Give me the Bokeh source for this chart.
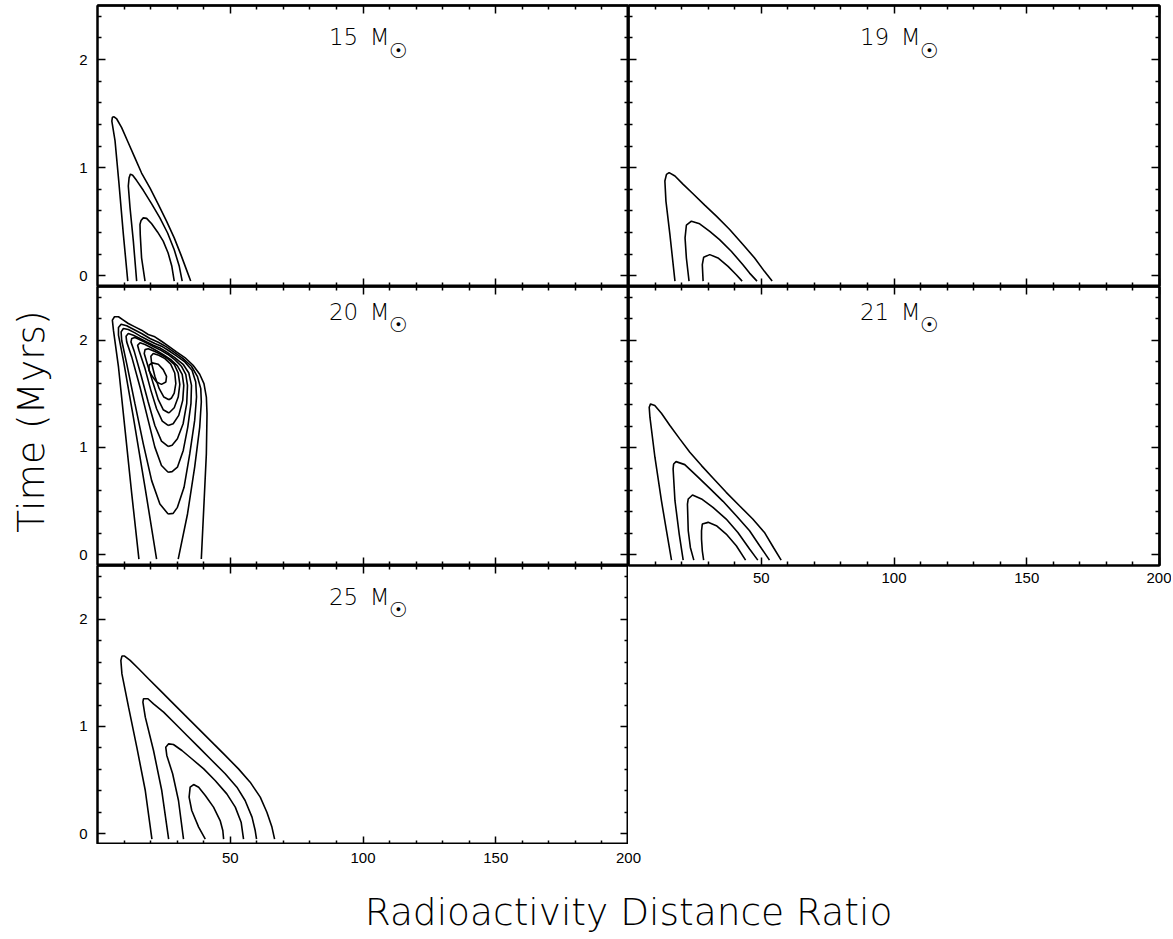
import math
from bokeh.plotting import figure
from bokeh.models import Range1d, LinearAxis, FixedTicker, Label
from bokeh.layouts import column, row
from bokeh.embed import file_html
from bokeh.resources import INLINE

# ---------------- axes ----------------
X_START, X_END = 0, 200
Y_START, Y_END = -0.1, 2.5
X_MAJOR = [50, 100, 150, 200]
X_MINOR = [10, 20, 30, 40, 60, 70, 80, 90, 110, 120, 130, 140, 160, 170, 180, 190]
Y_MAJOR = [0, 1, 2]
Y_MINOR = [0.2, 0.4, 0.6, 0.8, 1.2, 1.4, 1.6, 1.8, 2.2, 2.4]

X_TITLE = "Radioactivity Distance Ratio"
Y_TITLE = "Time (Myrs)"

# ---------------- contour data ----------------
# 15 Msun
M15_C1_X = [11.4, 9.75, 8.1, 6.6, 5.4, 5.6, 6.25, 7.25, 9.1, 11.6, 14.1, 16.6, 19.8, 22.9, 26.0, 28.9, 31.4, 33.5, 35.1]
M15_C1_Y = [-0.05, 0.38, 0.85, 1.25, 1.43, 1.465, 1.47, 1.45, 1.37, 1.23, 1.09, 0.95, 0.81, 0.66, 0.505, 0.35, 0.195, 0.056, -0.05]
M15_C2_X = [14.75, 13.5, 12.25, 11.6, 11.9, 12.4, 13.25, 14.75, 17.25, 20.4, 23.5, 26.4, 28.9, 30.8, 31.9]
M15_C2_Y = [-0.05, 0.32, 0.63, 0.83, 0.905, 0.94, 0.93, 0.88, 0.79, 0.665, 0.535, 0.395, 0.24, 0.087, -0.05]
M15_C3_X = [17.9, 16.6, 16.1, 16.0, 16.4, 17.25, 18.5, 20.4, 22.6, 24.75, 26.6, 28.0, 28.9]
M15_C3_Y = [-0.05, 0.165, 0.38, 0.475, 0.51, 0.535, 0.53, 0.48, 0.405, 0.32, 0.21, 0.087, -0.05]

# 19 Msun
M19_C1_X = [17.5, 15.6, 14.1, 13.7, 14.3, 15.3, 17.5, 20.6, 24.3, 28.7, 33.1, 38.1, 43.1, 47.5, 51.2, 54.1]
M19_C1_Y = [-0.05, 0.38, 0.69, 0.876, 0.938, 0.954, 0.923, 0.845, 0.758, 0.653, 0.551, 0.427, 0.288, 0.164, 0.04, -0.05]
M19_C2_X = [22.8, 21.8, 21.3, 21.8, 23.7, 26.8, 30.6, 34.3, 38.7, 43.1, 45.6, 48.4]
M19_C2_Y = [-0.05, 0.164, 0.35, 0.467, 0.504, 0.48, 0.411, 0.334, 0.226, 0.102, 0.024, -0.05]
M19_C3_X = [28.1, 27.8, 28.3, 30.6, 33.7, 37.5, 40.6, 42.8]
M19_C3_Y = [-0.05, 0.102, 0.17, 0.195, 0.164, 0.086, 0.009, -0.05]

# 20 Msun
M20_C1_X = [15.6, 12.9, 10.4, 7.9, 6.0, 5.6, 6.4, 7.9, 9.75, 11.6, 14.1, 16.6, 19.1, 21.6, 24.1, 26.6, 29.75, 32.9, 36.0, 38.5, 40.1, 41.0, 41.25, 41.0, 40.1, 39.1]
M20_C1_Y = [-0.04, 0.567, 1.159, 1.75, 2.093, 2.187, 2.218, 2.218, 2.187, 2.155, 2.124, 2.093, 2.053, 2.031, 1.99, 1.947, 1.891, 1.838, 1.766, 1.682, 1.595, 1.47, 1.314, 0.94, 0.473, -0.04]
M20_C2_X = [22.25, 17.9, 13.5, 9.75, 7.9, 7.9, 8.9, 11.0, 13.5, 16.6, 19.75, 22.9, 26.0, 29.1, 32.25, 35.4, 37.6, 38.9, 39.1, 38.5, 36.6, 33.9, 30.4]
M20_C2_Y = [-0.04, 0.629, 1.283, 1.813, 2.046, 2.118, 2.149, 2.134, 2.102, 2.062, 2.015, 1.981, 1.937, 1.884, 1.828, 1.757, 1.663, 1.548, 1.423, 1.19, 0.816, 0.38, -0.04]
M20_C3_X = [26.6, 23.5, 20.4, 17.25, 14.1, 11.0, 9.1, 8.9, 9.75, 11.6, 14.1, 16.6, 19.1, 21.6, 24.1, 26.6, 29.75, 32.9, 35.6, 37.0, 37.3, 36.6, 34.75, 32.6, 30.1, 28.5, 26.6]
M20_C3_Y = [0.38, 0.473, 0.691, 1.034, 1.408, 1.782, 1.999, 2.077, 2.109, 2.099, 2.068, 2.031, 1.999, 1.968, 1.944, 1.906, 1.853, 1.797, 1.719, 1.61, 1.47, 1.252, 0.94, 0.629, 0.442, 0.386, 0.38]
M20_C4_X = [26.6, 24.1, 21.6, 19.1, 16.0, 12.9, 11.0, 10.75, 11.6, 13.5, 16.0, 18.5, 21.0, 23.5, 26.0, 29.1, 32.25, 34.4, 35.4, 35.2, 34.0, 32.3, 30.1, 28.1, 26.6]
M20_C4_Y = [0.769, 0.832, 1.003, 1.252, 1.564, 1.844, 1.984, 2.037, 2.062, 2.046, 2.015, 1.984, 1.953, 1.928, 1.891, 1.838, 1.775, 1.694, 1.579, 1.408, 1.19, 0.972, 0.816, 0.775, 0.769]
M20_C5_X = [26.6, 24.1, 21.6, 19.1, 16.4, 13.9, 12.6, 12.9, 14.1, 16.4, 18.9, 21.4, 23.9, 26.4, 29.1, 31.6, 33.25, 33.9, 33.6, 32.25, 30.1, 28.1, 26.6]
M20_C5_Y = [1.009, 1.059, 1.205, 1.423, 1.673, 1.891, 1.984, 2.015, 2.025, 1.999, 1.968, 1.937, 1.906, 1.869, 1.819, 1.757, 1.682, 1.579, 1.408, 1.221, 1.081, 1.021, 1.009]
M20_C6_X = [26.6, 24.4, 22.25, 20.1, 17.9, 15.6, 15.1, 16.0, 17.9, 20.1, 22.6, 25.1, 27.6, 30.1, 31.9, 32.5, 32.1, 30.6, 28.5, 26.6]
M20_C6_Y = [1.205, 1.246, 1.361, 1.532, 1.735, 1.906, 1.953, 1.975, 1.959, 1.931, 1.897, 1.859, 1.819, 1.76, 1.682, 1.579, 1.439, 1.299, 1.221, 1.205]
M20_C7_X = [26.9, 24.75, 22.9, 21.0, 19.1, 17.6, 17.9, 19.1, 21.4, 23.9, 26.4, 28.9, 30.4, 31.0, 30.4, 28.9, 26.9]
M20_C7_Y = [1.321, 1.352, 1.445, 1.595, 1.75, 1.875, 1.912, 1.919, 1.897, 1.866, 1.828, 1.775, 1.694, 1.588, 1.47, 1.37, 1.321]
M20_C8_X = [26.9, 25.0, 23.25, 21.6, 20.4, 20.1, 21.0, 23.1, 25.4, 27.6, 29.1, 29.5, 28.9, 27.9, 26.9]
M20_C8_Y = [1.445, 1.47, 1.548, 1.663, 1.782, 1.85, 1.875, 1.859, 1.828, 1.775, 1.694, 1.595, 1.507, 1.461, 1.445]
M20_C9_X = [19.4, 20.6, 22.9, 24.75, 26.0, 25.75, 24.1, 22.25, 20.6, 19.4, 19.4]
M20_C9_Y = [1.766, 1.788, 1.775, 1.725, 1.663, 1.61, 1.588, 1.61, 1.663, 1.719, 1.766]

# 21 Msun
M21_C1_X = [16.2, 14.3, 12.4, 9.95, 8.07, 7.8, 8.3, 9.9, 12.4, 15.6, 19.3, 23.1, 27.5, 31.8, 36.8, 41.8, 46.8, 51.2, 54.6, 57.5]
M21_C1_Y = [-0.05, 0.224, 0.504, 0.909, 1.282, 1.375, 1.406, 1.391, 1.319, 1.204, 1.08, 0.955, 0.831, 0.716, 0.582, 0.457, 0.333, 0.208, 0.068, -0.05]
M21_C2_X = [20.6, 19.1, 17.5, 16.8, 17.0, 17.9, 21.2, 25.6, 30.6, 35.6, 40.6, 45.6, 49.4, 53.1]
M21_C2_Y = [-0.05, 0.193, 0.504, 0.80, 0.846, 0.868, 0.84, 0.737, 0.619, 0.498, 0.364, 0.224, 0.084, -0.05]
M21_C3_X = [24.6, 23.3, 22.5, 22.2, 22.5, 24.1, 27.5, 31.8, 36.8, 41.2, 45.6, 48.7]
M21_C3_Y = [-0.05, 0.068, 0.224, 0.473, 0.52, 0.557, 0.52, 0.442, 0.333, 0.208, 0.053, -0.05]
M21_C4_X = [28.3, 27.8, 27.5, 27.5, 27.8, 30.0, 33.1, 36.8, 40.6, 44.1]
M21_C4_Y = [-0.05, 0.037, 0.146, 0.224, 0.286, 0.302, 0.271, 0.193, 0.084, -0.05]

# 25 Msun
M25_C1_X = [20.5, 18.0, 14.8, 11.7, 9.2, 8.8, 9.2, 10.2, 12.3, 15.5, 19.2, 23.6, 28.0, 33.0, 38.1, 43.1, 48.1, 53.1, 57.5, 61.3, 63.8, 65.7, 66.7]
M25_C1_Y = [-0.05, 0.403, 0.807, 1.18, 1.49, 1.615, 1.656, 1.656, 1.616, 1.538, 1.445, 1.336, 1.227, 1.103, 0.978, 0.854, 0.73, 0.605, 0.481, 0.341, 0.201, 0.062, -0.05]
M25_C2_X = [26.8, 24.2, 21.1, 18.0, 17.1, 17.3, 19.0, 21.1, 24.9, 29.3, 33.7, 38.1, 43.1, 48.1, 52.5, 55.6, 58.2, 59.4, 59.9]
M25_C2_Y = [-0.05, 0.403, 0.776, 1.087, 1.227, 1.258, 1.258, 1.211, 1.134, 1.025, 0.916, 0.807, 0.683, 0.559, 0.434, 0.31, 0.155, 0.03, -0.05]
M25_C3_X = [32.4, 30.5, 28.3, 26.1, 25.7, 26.8, 28.6, 31.8, 35.5, 40.0, 44.3, 48.7, 51.9, 54.1, 55.0]
M25_C3_Y = [-0.05, 0.31, 0.559, 0.73, 0.807, 0.838, 0.832, 0.776, 0.699, 0.605, 0.497, 0.372, 0.248, 0.108, -0.05]
M25_C4_X = [40.6, 38.1, 35.5, 34.5, 34.9, 36.2, 38.1, 40.6, 43.7, 46.2, 47.2, 47.5]
M25_C4_Y = [-0.05, 0.062, 0.217, 0.341, 0.434, 0.459, 0.434, 0.357, 0.248, 0.123, 0.03, -0.05]

PANEL_XS = {
    "15": [M15_C1_X, M15_C2_X, M15_C3_X],
    "19": [M19_C1_X, M19_C2_X, M19_C3_X],
    "20": [M20_C1_X, M20_C2_X, M20_C3_X, M20_C4_X, M20_C5_X, M20_C6_X, M20_C7_X, M20_C8_X, M20_C9_X],
    "21": [M21_C1_X, M21_C2_X, M21_C3_X, M21_C4_X],
    "25": [M25_C1_X, M25_C2_X, M25_C3_X, M25_C4_X],
}
PANEL_YS = {
    "15": [M15_C1_Y, M15_C2_Y, M15_C3_Y],
    "19": [M19_C1_Y, M19_C2_Y, M19_C3_Y],
    "20": [M20_C1_Y, M20_C2_Y, M20_C3_Y, M20_C4_Y, M20_C5_Y, M20_C6_Y, M20_C7_Y, M20_C8_Y, M20_C9_Y],
    "21": [M21_C1_Y, M21_C2_Y, M21_C3_Y, M21_C4_Y],
    "25": [M25_C1_Y, M25_C2_Y, M25_C3_Y, M25_C4_Y],
}

# ---------------- styling ----------------
LIGHT = "DejaVu Sans Light"
TICK_FONT = "Liberation Sans"
TICK_SIZE = "15px"
TITLE_X, SUN_X = 110.0, 113.2
# (text centre y, sun centre y) per panel title
TITLE_POS = {"15": (2.21, 2.083), "19": (2.21, 2.083),
             "20": (2.265, 2.137), "21": (2.265, 2.137),
             "25": (2.21, 2.083)}


def base_axis(ticker):
    ax = LinearAxis(ticker=ticker)
    ax.axis_line_color = "black"
    ax.axis_line_width = 2
    ax.major_tick_out = 0
    ax.minor_tick_out = 0
    ax.major_tick_line_color = "black"
    ax.minor_tick_line_color = "black"
    ax.major_tick_line_width = 1.5
    ax.minor_tick_line_width = 1.5
    ax.major_label_text_font = TICK_FONT
    ax.major_label_text_font_size = TICK_SIZE
    ax.major_label_text_color = "black"
    return ax


def add_labelled_axis(p, side, majors, minors, standoff):
    ax = base_axis(FixedTicker(ticks=majors, minor_ticks=minors))
    ax.major_tick_in = 8
    ax.minor_tick_in = 4
    ax.major_label_standoff = standoff
    p.add_layout(ax, side)


def add_plain_axis(p, side, majors, minors):
    # tick marks only, no tick labels: long and short marks as two tick sets
    for ticks, length in ((minors, 4), (majors, 8)):
        ax = base_axis(FixedTicker(ticks=[], minor_ticks=ticks))
        ax.major_tick_in = 0
        ax.minor_tick_in = length
        ax.major_label_standoff = 0
        p.add_layout(ax, side)


def make_panel(mass, w, h, bt, bl, br, bb, xlab, ylab):
    p = figure(width=w, height=h,
               x_range=Range1d(X_START, X_END), y_range=Range1d(Y_START, Y_END),
               x_axis_location=None, y_axis_location=None,
               output_backend="svg", toolbar_location=None,
               min_border_left=bl, min_border_right=br,
               min_border_top=bt, min_border_bottom=bb)
    p.grid.visible = False
    p.outline_line_color = "black"
    p.outline_line_width = 2
    p.background_fill_color = "white"
    p.border_fill_color = "white"
    if xlab:
        add_labelled_axis(p, "below", X_MAJOR, X_MINOR, 7)
    else:
        add_plain_axis(p, "below", X_MAJOR, X_MINOR)
    add_plain_axis(p, "above", X_MAJOR, X_MINOR)
    if ylab:
        add_labelled_axis(p, "left", Y_MAJOR, Y_MINOR, 10)
    else:
        add_plain_axis(p, "left", Y_MAJOR, Y_MINOR)
    add_plain_axis(p, "right", Y_MAJOR, Y_MINOR)
    p.multi_line(xs=PANEL_XS[mass], ys=PANEL_YS[mass], line_color="black", line_width=1.6)
    ty, sy = TITLE_POS[mass]
    p.add_layout(Label(x=TITLE_X, y=ty, text=mass + "\u2002M",
                       text_align="right", text_baseline="middle",
                       text_font=LIGHT, text_font_size="23px", text_color="black"))
    p.add_layout(Label(x=SUN_X, y=sy, text="\u2609",
                       text_align="center", text_baseline="middle",
                       text_font="DejaVu Sans", text_font_size="21px", text_color="black"))
    return p


# left column: frame x 97..628 ; right column: frame x 628..1159
p15 = make_panel("15", 560, 286, 5, 29, 0, 0, False, True)
p20 = make_panel("20", 560, 279, 0, 29, 0, 0, False, True)
p25 = make_panel("25", 560, 279, 0, 29, 0, 0, False, True)
p19 = make_panel("19", 543, 286, 5, 0, 12, 0, False, False)
p21 = make_panel("21", 543, 304, 0, 0, 12, 25, True, False)

# tick labels under the 25 Msun panel (same x scale, drawn below its frame)
p25_ticks = figure(width=668, height=26,
                   x_range=p25.x_range, y_range=Range1d(0, 1),
                   x_axis_location=None, y_axis_location=None,
                   output_backend="svg", toolbar_location=None,
                   min_border_left=97, min_border_right=40,
                   min_border_top=0, min_border_bottom=25)
p25_ticks.grid.visible = False
p25_ticks.outline_line_color = None
tick_ax = base_axis(FixedTicker(ticks=X_MAJOR, minor_ticks=[]))
tick_ax.axis_line_color = None
tick_ax.major_tick_in = 0
tick_ax.minor_tick_in = 0
tick_ax.major_label_standoff = 7
p25_ticks.add_layout(tick_ax, "below")

# y title
ylab = figure(width=68, height=844, x_range=Range1d(0, 68), y_range=Range1d(0, 844),
              x_axis_location=None, y_axis_location=None,
              output_backend="svg", toolbar_location=None, min_border=0)
ylab.grid.visible = False
ylab.outline_line_color = None
ylab.add_layout(Label(x=30, y=423, text=Y_TITLE, angle=math.pi / 2,
                      text_align="center", text_baseline="middle",
                      text_font=LIGHT, text_font_size="37.5px", text_color="black"))

# x title (frame 97..1131 in page pixels, so data x equals page x)
xlab = figure(width=1171, height=67, x_range=Range1d(97, 1131), y_range=Range1d(0, 67),
              x_axis_location=None, y_axis_location=None,
              output_backend="svg", toolbar_location=None,
              min_border_left=97, min_border_right=40,
              min_border_top=0, min_border_bottom=0)
xlab.grid.visible = False
xlab.outline_line_color = None
xlab.add_layout(Label(x=628, y=26, text=X_TITLE,
                      text_align="center", text_baseline="middle",
                      text_font=LIGHT, text_font_size="37.5px", text_color="black"))

layout = column(
    row(ylab, column(p15, p20, p25), column(p19, p21)),
    p25_ticks,
    xlab,
)

open("out.html", "w").write(file_html(layout, INLINE))
